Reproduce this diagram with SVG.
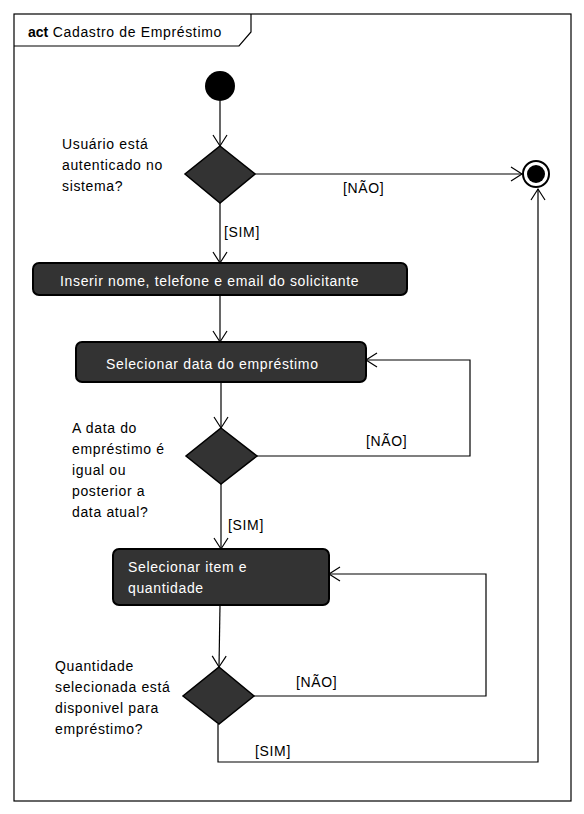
<svg xmlns="http://www.w3.org/2000/svg" width="584" height="814" viewBox="0 0 584 814">
<style>
text{font-family:"Liberation Sans",Arial,sans-serif;font-size:14px;letter-spacing:0.65px;fill:#000}
.lbl{fill:#fff}
.act{fill:#333;stroke:#000;stroke-width:2}
.dec{fill:#333;stroke:#000;stroke-width:1.5}
.edge{fill:none;stroke:#000;stroke-width:1.2}
</style>
<defs>
<marker id="arr" viewBox="-12 -8 14 16" refX="0" refY="0" markerWidth="14" markerHeight="16" markerUnits="userSpaceOnUse" orient="auto">
<path d="M-11,-7 L0,0 L-11,7" fill="none" stroke="#000" stroke-width="1.2"/>
</marker>
</defs>
<rect x="0" y="0" width="584" height="814" fill="#fff"/>
<g id="frame">
<rect x="14" y="14" width="557" height="787" fill="none" stroke="#000" stroke-width="1.2"/>
<path d="M14,46 L239,46 L251,32 L251,14" fill="none" stroke="#000" stroke-width="1.2"/>
<text x="28" y="37"><tspan font-weight="bold" letter-spacing="0">act</tspan> Cadastro de Empréstimo</text>
</g>
<g id="edges">
<path class="edge" d="M220,101 L220,146" marker-end="url(#arr)"/>
<path class="edge" d="M255,174 L522,174" marker-end="url(#arr)"/>
<path class="edge" d="M220,203 L220,263" marker-end="url(#arr)"/>
<path class="edge" d="M220,295 L220,342" marker-end="url(#arr)"/>
<path class="edge" d="M221,382 L221,428" marker-end="url(#arr)"/>
<path class="edge" d="M257,456 L470,456 L470,360 L366,360" marker-end="url(#arr)"/>
<path class="edge" d="M221,484 L221,549" marker-end="url(#arr)"/>
<path class="edge" d="M220,605 L219,667" marker-end="url(#arr)"/>
<path class="edge" d="M254,696 L486,696 L486,574 L329,574" marker-end="url(#arr)"/>
<path class="edge" d="M218,724 L218,762 L538,762 L538,189" marker-end="url(#arr)"/>
<text x="343" y="193">[NÃO]</text>
<text x="224" y="237">[SIM]</text>
<text x="366" y="446">[NÃO]</text>
<text x="228" y="530">[SIM]</text>
<text x="296" y="687">[NÃO]</text>
<text x="255" y="756">[SIM]</text>
</g>
<g id="start"><circle cx="220" cy="86" r="15" fill="#000"/></g>
<g id="end"><circle cx="536" cy="174" r="13" fill="#fff" stroke="#000" stroke-width="2"/><circle cx="536" cy="174" r="9" fill="#000"/></g>
<g id="dec1">
<polygon class="dec" points="220,146 255,174 220,203 185,174"/>
<text x="62" y="149">Usuário está</text>
<text x="62" y="170">autenticado no</text>
<text x="62" y="191">sistema?</text>
</g>
<g id="act1">
<rect class="act" x="33" y="263" width="374" height="32" rx="6"/>
<text class="lbl" x="60" y="286">Inserir nome, telefone e email do solicitante</text>
</g>
<g id="act2">
<rect class="act" x="76" y="342" width="290" height="40" rx="6"/>
<text class="lbl" x="106" y="369">Selecionar data do empréstimo</text>
</g>
<g id="dec2">
<polygon class="dec" points="221,428 257,456 221,484 186,456"/>
<text x="72" y="433">A data do</text>
<text x="72" y="454">empréstimo é</text>
<text x="72" y="475">igual ou</text>
<text x="72" y="496">posterior a</text>
<text x="72" y="517">data atual?</text>
</g>
<g id="act3">
<rect class="act" x="113" y="549" width="216" height="56" rx="6"/>
<text class="lbl" x="128" y="572">Selecionar item e</text>
<text class="lbl" x="128" y="593">quantidade</text>
</g>
<g id="dec3">
<polygon class="dec" points="219,667 254,696 219,724 183,696"/>
<text x="55" y="671">Quantidade</text>
<text x="55" y="692">selecionada está</text>
<text x="55" y="713">disponivel para</text>
<text x="55" y="734">empréstimo?</text>
</g>
</svg>
